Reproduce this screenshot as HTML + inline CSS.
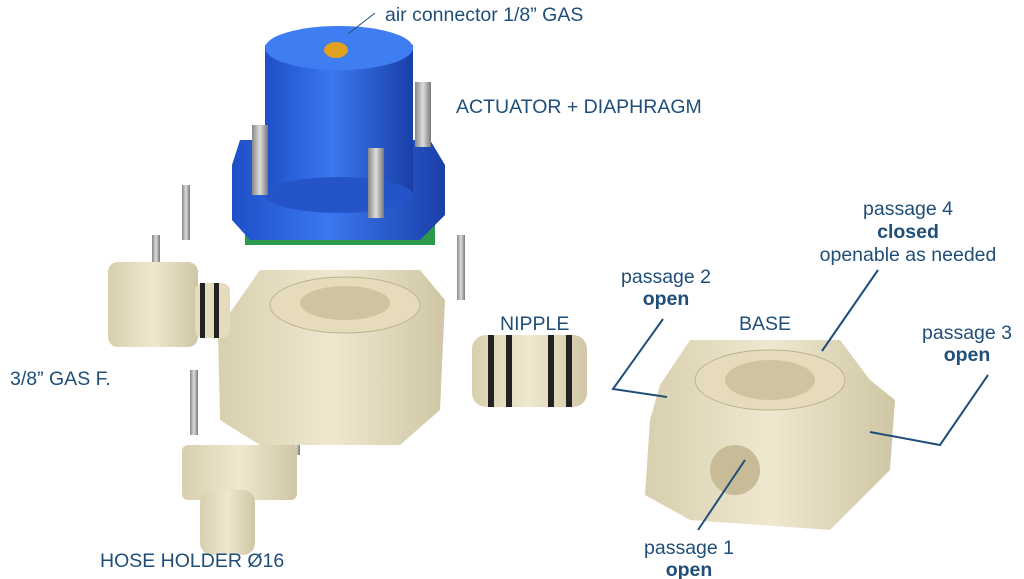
<!DOCTYPE html>
<html><head><style>
html,body{margin:0;padding:0;background:#fff;width:1024px;height:579px;overflow:hidden}
svg{display:block}
text{font-family:"Liberation Sans",Arial,sans-serif;font-size:19.5px;fill:#1f4e79}
.b{font-weight:bold}
</style></head><body>
<svg width="1024" height="579" viewBox="0 0 1024 579">
<defs>
<linearGradient id="bl" x1="0" x2="1"><stop offset="0" stop-color="#1e4fc8"/><stop offset=".45" stop-color="#3a78f0"/><stop offset="1" stop-color="#1a3fa8"/></linearGradient>
<linearGradient id="bg" x1="0" x2="1"><stop offset="0" stop-color="#d8cfae"/><stop offset=".5" stop-color="#efe8cf"/><stop offset="1" stop-color="#cfc6a4"/></linearGradient>
<linearGradient id="gr" x1="0" x2="1"><stop offset="0" stop-color="#888"/><stop offset=".5" stop-color="#ddd"/><stop offset="1" stop-color="#777"/></linearGradient>
</defs>
<rect x="245" y="205" width="190" height="40" fill="#2a9a4a"/>
<polygon points="240,140 430,140 445,165 445,215 420,240 250,240 232,220 232,165" fill="url(#bl)"/>
<rect x="265" y="45" width="148" height="150" fill="url(#bl)"/>
<ellipse cx="339" cy="195" rx="74" ry="18" fill="#2454c8"/>
<ellipse cx="339" cy="48" rx="74" ry="22" fill="#3f7ef2"/>
<ellipse cx="336" cy="50" rx="12" ry="8" fill="#e0a020"/>
<g fill="url(#gr)">
<rect x="252" y="125" width="16" height="70"/><rect x="368" y="148" width="16" height="70"/><rect x="415" y="82" width="16" height="65"/>
<rect x="182" y="185" width="8" height="55"/><rect x="152" y="235" width="8" height="60"/><rect x="457" y="235" width="8" height="65"/>
<rect x="420" y="285" width="8" height="60"/><rect x="190" y="370" width="8" height="65"/><rect x="292" y="395" width="8" height="60"/>
</g>
<polygon points="260,270 420,270 445,300 440,410 400,445 260,445 220,420 218,330" fill="url(#bg)"/>
<ellipse cx="345" cy="305" rx="75" ry="28" fill="#e6dcbc" stroke="#bdb190"/>
<ellipse cx="345" cy="303" rx="45" ry="17" fill="#cfc3a0"/>
<rect x="108" y="262" width="90" height="85" rx="10" fill="url(#bg)"/>
<rect x="195" y="283" width="35" height="55" rx="8" fill="#e6dcbc"/>
<rect x="200" y="283" width="5" height="55" fill="#222"/><rect x="214" y="283" width="5" height="55" fill="#222"/>
<rect x="472" y="335" width="115" height="72" rx="14" fill="url(#bg)"/>
<rect x="488" y="335" width="6" height="72" fill="#222"/><rect x="506" y="335" width="6" height="72" fill="#222"/><rect x="548" y="335" width="6" height="72" fill="#222"/><rect x="566" y="335" width="6" height="72" fill="#222"/>
<rect x="182" y="445" width="115" height="55" rx="6" fill="url(#bg)"/>
<rect x="200" y="490" width="55" height="65" rx="12" fill="url(#bg)"/>
<polygon points="690,340 840,340 870,380 895,400 890,470 860,500 830,530 690,520 645,495 650,420 660,385" fill="url(#bg)"/>
<ellipse cx="770" cy="380" rx="75" ry="30" fill="#e6dcbc" stroke="#bdb190"/>
<ellipse cx="770" cy="380" rx="45" ry="20" fill="#cfc3a0"/>
<ellipse cx="735" cy="470" rx="25" ry="25" fill="#c8bc98"/>
<g stroke="#1f4e79" stroke-width="2" fill="none">
<polyline points="663,319 613,389 667,397"/>
<line x1="878" y1="270" x2="822" y2="351"/>
<polyline points="988,375 940,445 870,432"/>
<line x1="745" y1="460" x2="698" y2="530"/>
<line x1="375" y1="13" x2="348" y2="34" stroke-width="1"/>
</g>
<text x="385" y="21">air connector 1/8” GAS</text>
<text x="456" y="113">ACTUATOR + DIAPHRAGM</text>
<text x="908" y="215" text-anchor="middle">passage 4</text>
<text x="908" y="238" text-anchor="middle" class="b">closed</text>
<text x="908" y="261" text-anchor="middle">openable as needed</text>
<text x="666" y="283" text-anchor="middle">passage 2</text>
<text x="666" y="305" text-anchor="middle" class="b">open</text>
<text x="500" y="330">NIPPLE</text>
<text x="765" y="330" text-anchor="middle">BASE</text>
<text x="967" y="339" text-anchor="middle">passage 3</text>
<text x="967" y="361" text-anchor="middle" class="b">open</text>
<text x="10" y="385">3/8” GAS F.</text>
<text x="689" y="554" text-anchor="middle">passage 1</text>
<text x="689" y="576" text-anchor="middle" class="b">open</text>
<text x="100" y="567">HOSE HOLDER Ø16</text>
</svg>
</body></html>
